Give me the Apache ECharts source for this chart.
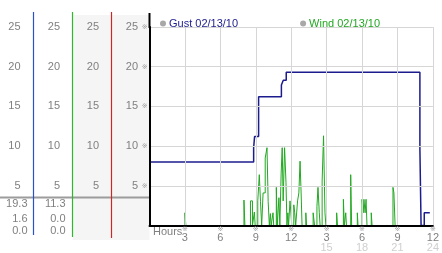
<!DOCTYPE html>
<html><head><meta charset="utf-8">
<script src="https://cdn.jsdelivr.net/npm/echarts@6/dist/echarts.min.js"></script>
<style>html,body{margin:0;padding:0;background:#fff}#c{width:442px;height:253px}</style>
</head><body><div id="c"></div>
<script>
// ---- data ----
var gustName = 'Gust 02/13/10';
var windName = 'Wind 02/13/10';
var gustHours  = [0, 8.82, 8.9, 9.24, 11.17, 11.33, 11.58, 22.9, 23.0, 23.27, 23.74];
var gustValues = [8.0, 9.8, 11.2, 16.2, 17.7, 18.3, 19.3, 9.7, 0, 1.6, 1.6];
var windHours  = [0, 3.0, 3.08, 8.0, 8.08, 8.55, 8.72, 8.88, 8.95, 9.17, 9.3, 9.4, 9.5,
  9.62, 9.8, 9.95, 10.05, 10.15, 10.24, 10.3, 10.46, 10.52, 10.74, 10.82, 10.96, 11.04,
  11.15, 11.24, 11.32, 11.44, 11.56, 11.64, 11.72, 11.78, 11.9, 12.05, 12.22, 12.3, 12.38,
  12.54, 12.65, 12.75, 12.84, 12.92, 13.24, 13.3, 13.86, 13.98, 14.18, 14.27, 14.38, 14.45,
  14.62, 14.74, 14.86, 14.94, 15.85, 15.92, 16.42, 16.5, 16.62, 16.68, 17.04, 17.12,
  17.6, 17.66, 18.0, 18.1, 18.16, 18.26, 18.34, 18.42, 18.78, 18.85, 20.62, 20.7, 20.8, 24];
var windValues = [0, 1.6, 0, 3.2, 0, 3.1, 0, 1.7, 0, 3.1, 6.4, 3.0, 0,
  4.1, 8.5, 9.8, 3.0, 0, 1.5, 0, 1.6, 0, 4.8, 0, 3.5, 0,
  6.6, 9.8, 3.1, 9.8, 5.4, 0, 1.6, 0, 3.1, 0, 2.6, 1.6, 0,
  3.1, 4.1, 8.1, 4.1, 0, 1.6, 0, 1.6, 0, 2.4, 4.8, 1.6, 0,
  5.6, 11.3, 1.6, 0, 1.6, 0, 3.3, 0, 1.6, 0, 6.4, 0,
  1.6, 0, 3.3, 1.6, 3.3, 1.6, 3.3, 0, 1.6, 0, 4.8, 4.1, 0, 0];
var hourTicks     = [3, 6, 9, 12, 15, 18, 21, 24];
var hourLabels    = ['3', '6', '9', '12', '3', '6', '9', '12'];
var hourLabels24  = ['', '', '', '', '15', '18', '21', '24'];
var gustStats = ['19.3', '1.6', '0.0'];
var windStats = ['11.3', '0.0', '0.0'];
var xLabelTitle = 'Hours';

// ---- styles ----
var NAVY = '#1c1c8e', GREEN = '#22a822';
var FONT = '"Liberation Sans", Arial, sans-serif';
function pairs(h, v){ return h.map(function(x,i){ return [x, v[i]]; }); }

var chart = echarts.init(document.getElementById('c'), null, {renderer:'canvas'});

function sideAxis(offset){
  return {type:'value', gridIndex:0, position:'left', offset:offset, min:0, max:25, interval:5,
    axisLine:{show:false}, axisTick:{show:false}, splitLine:{show:false},
    axisLabel:{margin:0, color:'#808080', fontFamily:FONT, fontSize:11, showMinLabel:false}};
}

var graphics = [
  {type:'rect', z:-10, shape:{x:72.5, y:15, width:77, height:225}, style:{fill:'#f5f5f5'}},
  {type:'line', shape:{x1:0, y1:197.5, x2:149, y2:197.5}, style:{stroke:'#9c9c9c', lineWidth:2}},
  {type:'line', shape:{x1:33.5, y1:12, x2:33.5, y2:235}, style:{stroke:'#2a52c8', lineWidth:1.2}},
  {type:'line', shape:{x1:72.5, y1:12, x2:72.5, y2:237}, style:{stroke:'#2db82d', lineWidth:1.2}},
  {type:'line', shape:{x1:111.5, y1:12, x2:111.5, y2:238}, style:{stroke:'#c82828', lineWidth:1.2}},
  {type:'line', shape:{x1:149.5, y1:13, x2:149.5, y2:28}, style:{stroke:'#000', lineWidth:2}},
  {type:'text', x:153, y:231.5, style:{text:xLabelTitle, font:'11px ' + FONT, fill:'#808080', verticalAlign:'middle', align:'left'}}
];
var statY = [204, 219, 231];
gustStats.forEach(function(s,i){
  graphics.push({type:'text', x:27.5, y:statY[i], style:{text:s, font:'11px ' + FONT, fill:'#808080', align:'right', verticalAlign:'middle'}});
});
windStats.forEach(function(s,i){
  graphics.push({type:'text', x:65.5, y:statY[i], style:{text:s, font:'11px ' + FONT, fill:'#808080', align:'right', verticalAlign:'middle'}});
});

chart.setOption({
  animation:false,
  backgroundColor:'#fff',
  grid:{left:149.5, right:3, top:27, bottom:27, containLabel:false},
  legend:{left:155, top:13, icon:'circle', itemWidth:6, itemHeight:6, itemGap:62,
    textStyle:{fontFamily:FONT, fontSize:11, padding:[0,0,0,-2]},
    data:[
      {name:gustName, itemStyle:{color:'#a8a8a8'}, textStyle:{color:NAVY}},
      {name:windName, itemStyle:{color:'#a8a8a8'}, textStyle:{color:GREEN}}
    ]},
  xAxis:{type:'value', min:0, max:24, interval:3, z:5,
    axisLine:{show:true, lineStyle:{color:'#000', width:2}},
    axisTick:{show:false},
    splitLine:{show:true, lineStyle:{color:'#d6d6d6', width:1}},
    axisLabel:{margin:0, showMinLabel:true, showMaxLabel:true, hideOverlap:false,
      formatter:function(v){
        var i = hourTicks.indexOf(v);
        if(i < 0) return '';
        var s = '{m|※}\n{n|' + hourLabels[i] + '}';
        if(hourLabels24[i]) s += '\n{s|' + hourLabels24[i] + '}';
        return s;
      },
      rich:{
        m:{fontSize:7, color:'#a0a0a0', lineHeight:7, fontFamily:'"DejaVu Sans", sans-serif'},
        n:{fontSize:11, color:'#808080', lineHeight:10, fontFamily:FONT},
        s:{fontSize:11, color:'#cfcfcf', lineHeight:10, fontFamily:FONT}
      }}
  },
  yAxis:[
    {type:'value', min:0, max:25, interval:5, z:5,
      axisLine:{show:true, lineStyle:{color:'#000', width:2}},
      axisTick:{show:false},
      splitLine:{show:true, lineStyle:{color:'#d6d6d6', width:1}},
      axisLabel:{margin:2, showMinLabel:false, formatter:function(){return '※';},
        fontSize:7, color:'#a0a0a0', fontFamily:'"DejaVu Sans", sans-serif'}},
    sideAxis(11.5), sideAxis(50.5), sideAxis(89.5), sideAxis(129)
  ],
  graphic:{elements:graphics},
  series:[
    {name:windName, type:'line', step:'end', data:pairs(windHours, windValues), showSymbol:false,
      lineStyle:{color:GREEN, width:1}, itemStyle:{color:GREEN}, z:2},
    {name:gustName, type:'line', step:'end', data:pairs(gustHours, gustValues), showSymbol:false,
      lineStyle:{color:NAVY, width:1.5}, itemStyle:{color:NAVY}, z:3}
  ]
});
</script></body></html>
